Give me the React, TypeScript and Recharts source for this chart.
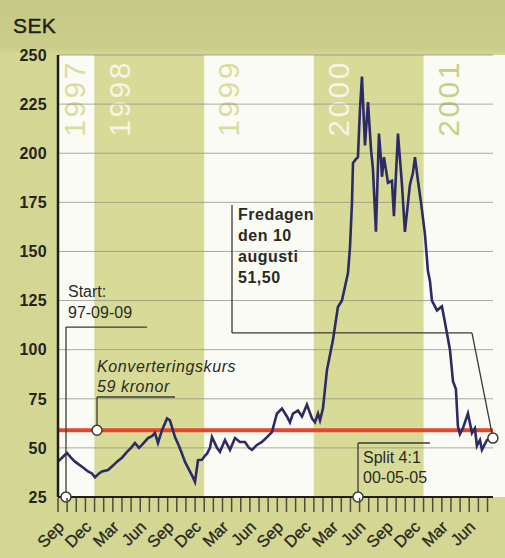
import React from 'react';
import { LineChart, Line, XAxis, YAxis, ReferenceLine, ReferenceArea, ReferenceDot } from 'recharts';

// x = months since 1 Sep 1997
const monthIndex = [
  0.0, 0.44, 0.98, 1.42, 1.86, 2.3, 2.74, 3.28, 3.72, 4.05, 4.49, 4.81, 5.47, 6.02, 6.46, 7.0, 7.55, 7.99, 8.42, 8.86,
  9.19, 9.85, 10.28, 10.61, 10.94, 11.38, 11.93, 12.25, 12.8, 13.24, 13.57, 13.89, 14.22, 14.77, 14.99, 15.32, 15.75, 16.08, 16.3, 16.63,
  16.85, 17.4, 17.72, 18.27, 18.82, 19.37, 19.91, 20.46, 20.9, 21.23, 21.77, 22.32, 22.87, 23.41, 23.96, 24.51, 25.05, 25.38, 25.71, 26.26,
  26.7, 27.24, 27.79, 28.12, 28.45, 28.67, 28.99, 29.43, 30.09, 30.63, 31.07, 31.73, 31.95, 32.17, 32.28, 32.6, 32.82, 33.04, 33.26, 33.59,
  33.92, 34.25, 34.46, 34.79, 35.12, 35.34, 35.45, 35.67, 36.11, 36.54, 36.76, 37.2, 37.64, 37.96, 38.51, 38.84, 39.06, 39.39, 39.72, 40.15,
  40.48, 40.7, 40.92, 41.47, 42.01, 42.34, 42.89, 43.22, 43.54, 43.76, 43.98, 44.31, 44.86, 45.3, 45.62, 45.84, 46.17, 46.39, 46.94, 47.26,
  47.59,
];
const priceSEK = [
  43, 45, 47.4, 45, 43, 41.5, 40, 38, 37, 35, 37, 38, 38.7, 41, 43, 45, 48, 50, 52.5, 50,
  51.5, 55, 56, 57.6, 52.5, 59, 65, 64, 55.5, 51, 47, 43, 40, 35, 32.7, 43.8, 44, 46, 47, 50,
  55.5, 50, 48, 54, 49, 55, 53, 53, 50, 49, 51.5, 53, 55.5, 58, 67.5, 70, 66, 63, 67.5, 69,
  66, 72, 65, 63, 67.5, 64, 70, 89.6, 105, 121.7, 125, 139, 152, 175, 195, 197, 198, 222, 239, 204,
  226, 202, 192, 160, 210, 197, 188, 198, 185, 186, 168, 210, 184, 160, 184, 190, 198, 186, 175, 159,
  140, 135, 125, 120, 122, 114, 100, 84, 80, 61, 57, 60, 67.5, 57.6, 60, 51, 54, 49, 54, 55,
  55,
];

const yTicks = [25, 50, 75, 100, 125, 150, 175, 200, 225, 250];
const xTicks = [
  0, 1, 2, 3, 4, 5, 6, 7, 8, 9, 10, 11, 12, 13, 14, 15, 16, 17, 18, 19, 20, 21, 22, 23,
  24, 25, 26, 27, 28, 29, 30, 31, 32, 33, 34, 35, 36, 37, 38, 39, 40, 41, 42, 43, 44, 45, 46, 47,
];
const quarterLabels = ['Sep', 'Dec', 'Mar', 'Jun', 'Sep', 'Dec', 'Mar', 'Jun', 'Sep', 'Dec', 'Mar', 'Jun', 'Sep', 'Dec', 'Mar', 'Jun'];

const years = ['1997', '1998', '1999', '2000', '2001'];
const yearStart = [0, 4, 16, 28, 40];
const yearEnd = [4, 16, 28, 40, 47.6];

const conversionRate = 59;
const startMonth = 0.875;
const splitMonth = 32.83;
const lastMonth = 47.59;
const lastPrice = 55;

const FONT = "'Liberation Sans', Arial, Helvetica, sans-serif";
const data = monthIndex.map((m, i) => ({ m, v: priceSEK[i] }));

const MonthTick = (props: any) => {
  const { x, y, payload } = props;
  const val = payload.value as number;
  const label = val % 3 === 0 ? quarterLabels[val / 3] : null;
  const ax = x + 7;
  const ay = y + 31;
  return (
    <g>
      <line x1={x} y1={y + 1} x2={x} y2={y + 15} stroke="#4b4b3e" strokeWidth={1.5} />
      {label && (
        <text x={ax} y={ay} textAnchor="end" transform={`rotate(-45 ${ax} ${ay})`} fontFamily={FONT} fontSize={16.5} fill="#26261e" stroke="#26261e" strokeWidth={0.3}>
          {label}
        </text>
      )}
    </g>
  );
};

const YTick = (props: any) => {
  const { x, y, payload } = props;
  return (
    <text x={x} y={y} dy="0.36em" textAnchor="end" fontFamily={FONT} fontSize={16} fontWeight="bold" fill="#24241c" letterSpacing={0.3}>
      {payload.value}
    </text>
  );
};

const yearLabel = (text: string, idx: number, shaded: boolean) => (props: any) => {
  const vb = props.viewBox;
  const bx = vb.x + (idx === 0 ? 27 : 35);
  const by = vb.y + 5;
  return (
    <text x={bx} y={by} textAnchor="end" transform={`rotate(-90 ${bx} ${by})`} fontFamily={FONT} fontSize={30} letterSpacing={2.5}
      fill={shaded ? '#f4f5e6' : idx === 4 ? '#c9cf84' : '#dadd9f'}>
      {text}
    </text>
  );
};

const note = (lines: string[], dx: number, dys: number[], extra: any) => (props: any) => {
  const vb = props.viewBox;
  const cx = vb.x + vb.width / 2;
  const cy = vb.y + vb.height / 2;
  return (
    <text fontFamily={FONT} fontSize={16} fill="#2a2a24" {...extra}>
      {lines.map((l, i) => (
        <tspan key={i} x={cx + dx} y={cy + dys[i]}>{l}</tspan>
      ))}
    </text>
  );
};

const LEAD = { stroke: '#3a3a32', strokeWidth: 1.3 };
const CIRCLE = { r: 5, fill: '#ffffff', stroke: '#3a3a32', strokeWidth: 1.5 };

export default function App() {
  return (
    <div style={{ position: 'absolute', left: 0, top: 0, width: 505, height: 558, overflow: 'hidden',
      background: 'linear-gradient(#c6c984 0px, #cbce8a 48px, #d4d794 54px, #d4d794 100%)' }}>
      <div style={{ position: 'absolute', left: 493, top: 55, width: 12, height: 442, background: '#fbfbf5' }} />
      <LineChart width={505} height={558} data={data} margin={{ top: 55, right: 12, bottom: 0, left: 0 }} style={{ position: 'absolute', left: 0, top: 0 }}>
        <XAxis type="number" dataKey="m" domain={[0, 47.6]} ticks={xTicks} interval={0} height={61}
          tick={<MonthTick />} tickLine={false} tickSize={0} tickMargin={0}
          axisLine={{ stroke: '#1f1f1a', strokeWidth: 2.2 }} allowDataOverflow />
        <YAxis type="number" domain={[25, 250]} ticks={yTicks} width={58} interval={0}
          tick={<YTick />} tickLine={false} tickSize={8} tickMargin={3}
          axisLine={{ stroke: '#1f1f1a', strokeWidth: 2.5 }}
          label={{ content: (p: any) => (
            <text x={13} y={33} fontFamily={FONT} fontSize={21} fill="#1e1e18" stroke="#1e1e18" strokeWidth={0.4} letterSpacing={0.4}>SEK</text>
          ) }} />
        {years.map((yr, i) => (
          <ReferenceArea key={yr} x1={yearStart[i]} x2={yearEnd[i]} y1={25} y2={250}
            fill={i % 2 === 1 ? '#d8db98' : '#fbfbf5'} fillOpacity={1} stroke="none"
            label={{ content: yearLabel(yr, i, i % 2 === 1) }} />
        ))}
        {yTicks.filter((t) => t > 25).map((t) => (
          <ReferenceLine key={t} y={t} stroke="#8e8f80" strokeOpacity={0.75} strokeWidth={1} />
        ))}
        <ReferenceLine y={conversionRate} stroke="#e4472c" strokeWidth={4} />
        <Line type="linear" dataKey="v" stroke="#2c2b66" strokeWidth={2.6} dot={false} activeDot={false} isAnimationActive={false} />

        {/* Start leader */}
        <ReferenceLine segment={[{ x: startMonth, y: 25 }, { x: startMonth, y: 111.5 }]} {...LEAD} />
        <ReferenceLine segment={[{ x: startMonth, y: 111.5 }, { x: 9.74, y: 111.5 }]} {...LEAD} />
        <ReferenceDot x={startMonth} y={111.5} r={0} stroke="none"
          label={{ content: note(['Start:', '97-09-09'], 2, [-30, -9], {}) }} />

        {/* Konverteringskurs leader */}
        <ReferenceLine segment={[{ x: 4.27, y: conversionRate }, { x: 4.27, y: 75.9 }]} {...LEAD} />
        <ReferenceLine segment={[{ x: 4.27, y: 75.9 }, { x: 12.8, y: 75.9 }]} {...LEAD} />
        <ReferenceDot x={4.27} y={75.9} r={0} stroke="none"
          label={{ content: note(['Konverteringskurs', '59 kronor'], 0, [-25, -5], { fontStyle: 'italic', letterSpacing: 0.6 }) }} />

        {/* Split leader */}
        <ReferenceLine segment={[{ x: splitMonth, y: 25 }, { x: splitMonth, y: 52.5 }]} {...LEAD} />
        <ReferenceLine segment={[{ x: splitMonth, y: 52.5 }, { x: 40.7, y: 52.5 }]} {...LEAD} />
        <ReferenceDot x={splitMonth} y={52.5} r={0} stroke="none"
          label={{ content: note(['Split 4:1', '00-05-05'], 5, [20, 40], {}) }} />

        {/* Fredagen leader */}
        <ReferenceLine segment={[{ x: 19.04, y: 173.6 }, { x: 19.04, y: 108.5 }]} {...LEAD} />
        <ReferenceLine segment={[{ x: 19.04, y: 108.5 }, { x: 45.3, y: 108.5 }]} {...LEAD} />
        <ReferenceLine segment={[{ x: 45.3, y: 108.5 }, { x: lastMonth, y: lastPrice }]} {...LEAD} />
        <ReferenceDot x={19.04} y={173.6} r={0} stroke="none"
          label={{ content: note(['Fredagen', 'den 10', 'augusti', '51,50'], 6, [15, 36, 57, 78], { fontWeight: 'bold', letterSpacing: 0.5 }) }} />

        <ReferenceDot x={startMonth} y={25} {...CIRCLE} />
        <ReferenceDot x={4.27} y={conversionRate} {...CIRCLE} />
        <ReferenceDot x={splitMonth} y={25} {...CIRCLE} />
        <ReferenceDot x={lastMonth} y={lastPrice} {...CIRCLE} />
      </LineChart>
    </div>
  );
}
